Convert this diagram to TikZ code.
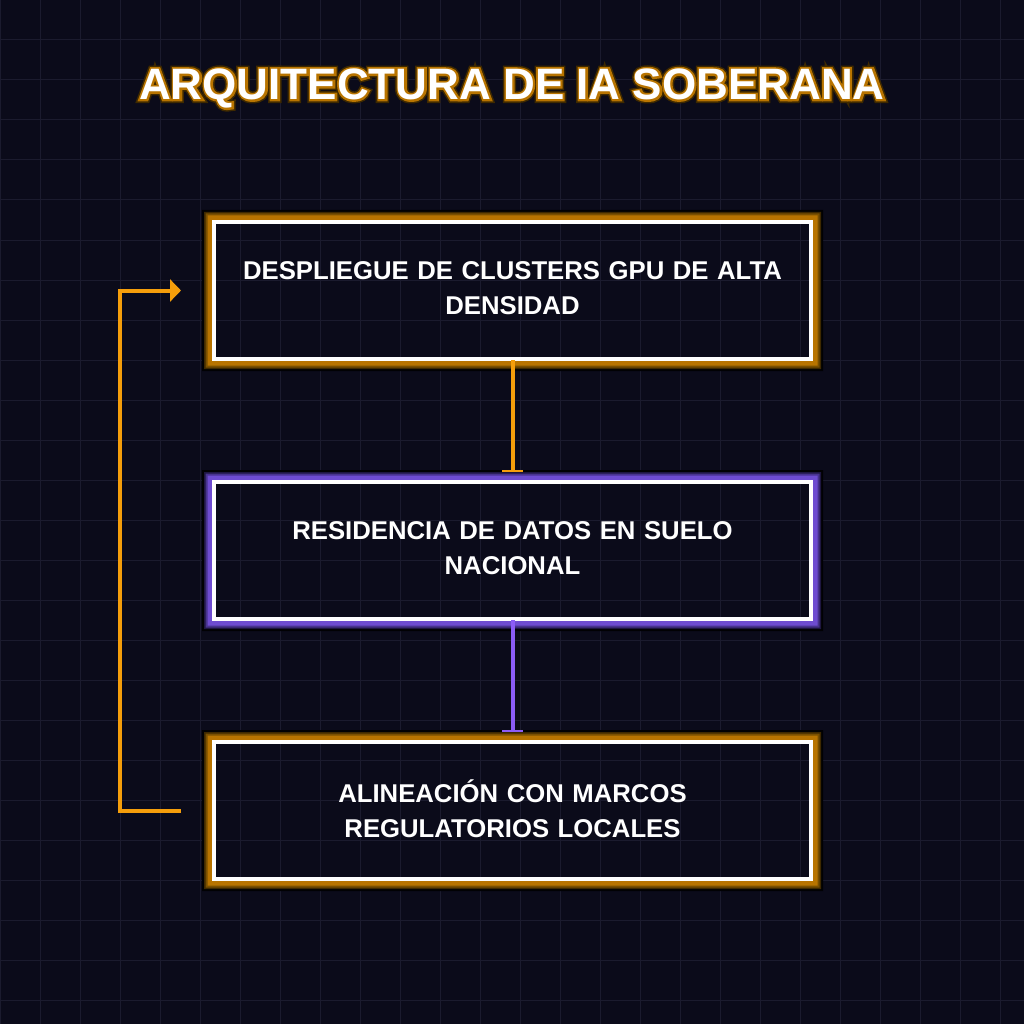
\documentclass[tikz,border=0pt]{standalone}
\usepackage{fontspec}
\setmainfont{Liberation Sans}
\newfontfamily\glowdark{Liberation Sans}[BoldFeatures={FakeBold=16}]
\newfontfamily\glowmid{Liberation Sans}[BoldFeatures={FakeBold=9}]
\usetikzlibrary{arrows.meta,backgrounds,calc}
\definecolor{bg}{HTML}{0B0B1A}
\definecolor{gridc}{HTML}{1B1B2E}
\definecolor{org}{HTML}{F59E0B}
\definecolor{orgA}{HTML}{B87400}
\definecolor{orgB}{HTML}{7A5000}
\definecolor{orgC}{HTML}{3E2900}
\definecolor{pur}{HTML}{8B5CF6}
\definecolor{purA}{HTML}{6E4CD0}
\definecolor{purB}{HTML}{48338F}
\definecolor{purC}{HTML}{1E1640}
\newcommand\glowframe[4]{%
  \fill[black!90!bg, even odd rule] ([shift={(-12,-12)}]#1.north west) rectangle ([shift={(12,12)}]#1.south east) (#1.north west) rectangle (#1.south east);
  \fill[#4, even odd rule] ([shift={(-10,-10)}]#1.north west) rectangle ([shift={(10,10)}]#1.south east) (#1.north west) rectangle (#1.south east);
  \fill[#3, even odd rule] ([shift={(-8.5,-8.5)}]#1.north west) rectangle ([shift={(8.5,8.5)}]#1.south east) (#1.north west) rectangle (#1.south east);
  \fill[#2, even odd rule] ([shift={(-6.5,-6.5)}]#1.north west) rectangle ([shift={(6.5,6.5)}]#1.south east) (#1.north west) rectangle (#1.south east);
}
% glowing title text: stroked (fake bold) copies under the white text
\newcommand\glowtext[1]{%
  \leavevmode
  \rlap{\glowdark\bfseries\color{orgC}#1}%
  \rlap{\glowmid\bfseries\color{orgA}#1}%
  {\color{white}#1}}
\tikzset{
  gridline/.style={draw=gridc, line width=1pt},
  stepbox/.style={draw=white, line width=4pt, minimum width=597pt, minimum height=137pt,
    inner sep=0pt, outer sep=0pt, text=white, align=center, text width=570pt,
    font=\bfseries\fontsize{25.7}{35}\selectfont},
  flowline/.style={line width=4pt, shorten <=1pt, shorten >=10pt, -{Bar[width=21pt,line width=2pt]}},
  titlefont/.style={font=\bfseries\fontsize{44}{50}\selectfont, inner sep=0pt},
}
\begin{document}
\begin{tikzpicture}[x=1pt,y=-1pt]
\useasboundingbox (0,0) rectangle (1024,1024);
% boxes
\node[stepbox] (b1) at (512.5,290.5) {DESPLIEGUE DE CLUSTERS GPU DE ALTA\\DENSIDAD\par\vspace{4pt}};
\node[stepbox] (b2) at (512.5,550.5) {RESIDENCIA DE DATOS EN SUELO\\NACIONAL\par\vspace{4pt}};
\node[stepbox] (b3) at (512.5,810.5) {ALINEACIÓN CON MARCOS\\REGULATORIOS LOCALES\par\vspace{4pt}};
\begin{scope}[on background layer]
  \fill[bg] (0,0) rectangle (1024,1024);
  \foreach \i in {0,40,...,1000} {
    \draw[gridline] (\i,0) -- (\i,1024);
    \draw[gridline] (0,\i) -- (1024,\i);
  }
  \glowframe{b1}{orgA}{orgB}{orgC}
  \glowframe{b2}{purA}{purB}{purC}
  \glowframe{b3}{orgA}{orgB}{orgC}
\end{scope}
% title
\node[titlefont, anchor=base] (title) at (512,99.5) {\glowtext{ARQUITECTURA DE IA SOBERANA}};
% connectors
\draw[flowline, org] (b1.south) -- (b2.north);
\draw[flowline, pur] (b2.south) -- (b3.north);
\coordinate (fbstart) at ([xshift=-33pt]b3.west);
\coordinate (fbend) at ([xshift=-33pt]b1.west);
\draw[org, line width=4pt, -{Triangle[length=11pt,width=22pt]}] (fbstart) -- ++(-61,0) |- (fbend);
\end{tikzpicture}
\end{document}
